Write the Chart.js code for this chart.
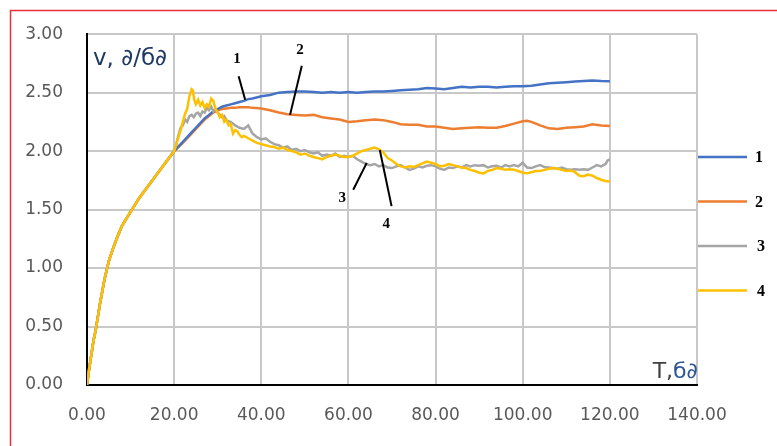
<!DOCTYPE html>
<html>
<head>
<meta charset="utf-8">
<script src="https://cdn.jsdelivr.net/npm/chart.js@4.4.1/dist/chart.umd.min.js"></script>
<style>
  html, body { margin: 0; padding: 0; background: #fff; }
  #wrap { width: 777px; height: 446px; }
</style>
</head>
<body>
<div id="wrap"><canvas id="myChart" width="777" height="446"></canvas></div>
<script>
// shared start-up part (0..20 s), all four runs coincide
const riseT = [0, 0.5, 1, 1.5, 2, 3, 4, 5, 6, 7, 8, 9, 10, 11, 12, 14, 16, 18, 20];
const riseV = [0, 0.14, 0.26, 0.38, 0.47, 0.70, 0.90, 1.06, 1.17, 1.27, 1.36, 1.42, 1.48, 1.54, 1.60, 1.70, 1.80, 1.90, 2.00];

// run 1
const t1 = [21, 22, 23, 24, 25, 26, 27, 28, 29, 30, 31, 32, 33, 34, 35, 36, 37, 38, 40, 42, 44, 46, 48, 50,
  52, 54, 56, 58, 60, 62, 64, 66, 68, 70, 72, 74, 76, 78, 80, 82, 84, 86, 88, 90, 92, 94, 96, 98, 100,
  102, 104, 106, 108, 110, 112, 114, 116, 118, 120];
const v1 = [2.04, 2.08, 2.12, 2.16, 2.20, 2.24, 2.28, 2.31, 2.34, 2.36, 2.38, 2.39, 2.40, 2.41, 2.42, 2.43, 2.445, 2.45, 2.47, 2.48, 2.50, 2.505, 2.51, 2.51,
  2.505, 2.50, 2.505, 2.50, 2.505, 2.50, 2.505, 2.51, 2.51, 2.515, 2.52, 2.525, 2.53, 2.54, 2.535, 2.53, 2.54, 2.55, 2.545, 2.55, 2.55, 2.545, 2.55, 2.555, 2.555,
  2.56, 2.57, 2.58, 2.585, 2.59, 2.595, 2.60, 2.605, 2.60, 2.597];

// run 2
const t2 = [21, 22, 23, 24, 25, 26, 27, 28, 29, 30, 31, 32, 33, 34, 35, 36, 37, 38, 40, 42, 44, 46, 48, 50,
  52, 54, 56, 58, 60, 62, 64, 66, 68, 70, 72, 74, 76, 78, 80, 82, 84, 86, 88, 90, 92, 94, 96, 98, 100,
  101, 102, 104, 106, 108, 110, 112, 114, 116, 118, 120];
const v2 = [2.035, 2.07, 2.11, 2.15, 2.19, 2.23, 2.27, 2.30, 2.33, 2.35, 2.36, 2.365, 2.37, 2.37, 2.375, 2.375, 2.375, 2.37, 2.365, 2.35, 2.33, 2.315, 2.31, 2.305,
  2.31, 2.29, 2.28, 2.27, 2.25, 2.255, 2.265, 2.27, 2.265, 2.25, 2.23, 2.225, 2.225, 2.21, 2.21, 2.20, 2.19, 2.195, 2.20, 2.205, 2.20, 2.20, 2.215, 2.235, 2.255,
  2.26, 2.25, 2.22, 2.195, 2.19, 2.20, 2.205, 2.21, 2.23, 2.22, 2.215];

// run 3
const t3 = [20.5, 21, 21.5, 22, 22.5, 23, 23.5, 24, 24.5, 25, 25.5, 26, 26.5, 27, 27.5, 28, 28.5, 29, 29.5, 30, 30.5, 31, 31.5, 32,
  33, 34, 35, 36, 37, 38, 39, 40, 41, 42, 43, 44, 45, 46, 47, 48, 49, 50, 51, 52, 53, 54, 55, 56, 57, 58, 59, 60,
  61, 62, 63, 64, 65, 66, 67, 68, 69, 70, 71, 72, 73, 74, 75, 76, 77, 78, 79, 80, 81, 82, 83, 84, 85, 86, 87, 88, 89, 90,
  91, 92, 93, 94, 95, 96, 97, 98, 99, 100, 101, 102, 103, 104, 105, 106, 107, 108, 109, 110, 111, 112, 113, 114, 115, 116, 117, 118, 119, 119.5, 120];
const v3 = [2.06, 2.14, 2.20, 2.22, 2.27, 2.25, 2.30, 2.31, 2.29, 2.32, 2.33, 2.30, 2.34, 2.33, 2.37, 2.35, 2.38, 2.34, 2.36, 2.33, 2.31, 2.29, 2.30, 2.26,
  2.25, 2.22, 2.20, 2.19, 2.22, 2.15, 2.12, 2.10, 2.11, 2.08, 2.06, 2.05, 2.03, 2.04, 2.01, 2.02, 2.00, 2.01, 1.99, 1.98, 1.99, 1.96, 1.97, 1.96, 1.98, 1.95, 1.96, 1.95,
  1.96, 1.93, 1.91, 1.89, 1.88, 1.89, 1.87, 1.88, 1.86, 1.855, 1.87, 1.88, 1.86, 1.84, 1.85, 1.87, 1.86, 1.875, 1.88, 1.87, 1.85, 1.84, 1.86, 1.855, 1.87, 1.86, 1.88, 1.87, 1.88, 1.875,
  1.88, 1.86, 1.87, 1.875, 1.86, 1.88, 1.87, 1.88, 1.87, 1.90, 1.86, 1.855, 1.87, 1.88, 1.865, 1.86, 1.855, 1.85, 1.86, 1.845, 1.84, 1.845, 1.84, 1.845, 1.84, 1.86, 1.88, 1.87, 1.89, 1.92, 1.93];

// run 4
const t4 = [20.5, 21, 21.5, 22, 22.5, 23, 23.5, 24, 24.3, 24.6, 25, 25.5, 26, 26.5, 27, 27.5, 28, 28.5, 29, 29.5, 30, 30.5, 31, 31.5, 32,
  32.5, 33, 33.5, 34, 34.5, 35, 35.5, 36, 37, 38, 39, 40, 41, 42, 43, 44, 45, 46, 47, 48, 49, 50, 51, 52, 53, 54, 55, 56, 57, 58, 59, 60,
  61, 62, 63, 64, 65, 66, 67, 68, 69, 70, 71, 72, 73, 74, 75, 76, 77, 78, 79, 80, 81, 82, 83, 84, 85, 86, 87, 88, 89, 90,
  91, 92, 93, 94, 95, 96, 97, 98, 99, 100, 101, 102, 103, 104, 105, 106, 107, 108, 109, 110, 111, 112, 113, 114, 115, 116, 117, 118, 119, 120];
const v4 = [2.06, 2.12, 2.18, 2.25, 2.32, 2.36, 2.47, 2.53, 2.52, 2.44, 2.40, 2.44, 2.39, 2.42, 2.37, 2.40, 2.38, 2.45, 2.43, 2.36, 2.33, 2.29, 2.31, 2.25, 2.27,
  2.22, 2.23, 2.15, 2.18, 2.17, 2.14, 2.12, 2.13, 2.11, 2.09, 2.07, 2.06, 2.05, 2.04, 2.035, 2.02, 2.03, 2.01, 2.00, 1.99, 1.97, 1.98, 1.96, 1.95, 1.94, 1.93, 1.95, 1.96, 1.97, 1.96, 1.95, 1.95,
  1.96, 1.98, 2.00, 2.01, 2.02, 2.03, 2.015, 1.99, 1.94, 1.92, 1.89, 1.87, 1.86, 1.87, 1.865, 1.88, 1.895, 1.91, 1.90, 1.89, 1.87, 1.875, 1.89, 1.88, 1.87, 1.86, 1.855, 1.84, 1.83, 1.815,
  1.81, 1.83, 1.84, 1.855, 1.85, 1.84, 1.845, 1.84, 1.83, 1.815, 1.81, 1.82, 1.83, 1.83, 1.84, 1.85, 1.855, 1.85, 1.84, 1.83, 1.835, 1.82, 1.79, 1.785, 1.80, 1.79, 1.77, 1.755, 1.745, 1.74];

const seriesNames = ['1', '2', '3', '4'];
const seriesColors = ['#4472C4', '#ED7D31', '#A5A5A5', '#FFC000'];

const xTicks = [0, 20, 40, 60, 80, 100, 120, 140];
const yTicks = [0, 0.5, 1, 1.5, 2, 2.5, 3];

function points(ts, vs) {
   const all = riseT.concat(ts);
   const vals = riseV.concat(vs);
   return all.map((t, i) => ({ x: t, y: vals[i] }));
}

// callouts: label position and leader line, in data units
const callouts = [
   { text: '1', at: [34.4, 2.79], from: [34.8, 2.64], to: [36.3, 2.44] },
   { text: '2', at: [48.9, 2.86], from: [49.3, 2.73], to: [46.6, 2.31] },
   { text: '3', at: [58.6, 1.60], from: [61.1, 1.67], to: [64.2, 1.90] },
   { text: '4', at: [68.7, 1.38], from: [67.2, 2.01], to: [69.9, 1.53] }
];

const ctx = document.getElementById('myChart').getContext('2d');

const decor = {
   id: 'decor',
   beforeDraw(chart) {
      const c = chart.ctx;
      c.save();
      c.fillStyle = '#fff';
      c.fillRect(0, 0, chart.width, chart.height);
      c.restore();
   },
   afterDraw(chart) {
      const c = chart.ctx;
      const xs = chart.scales.x, ys = chart.scales.y;
      const area = chart.chartArea;
      c.save();

      // callouts
      c.strokeStyle = '#000';
      c.lineWidth = 2;
      c.fillStyle = '#000';
      c.font = 'bold 15px "Liberation Serif"';
      c.textAlign = 'center';
      c.textBaseline = 'middle';
      callouts.forEach(o => {
         c.beginPath();
         c.moveTo(xs.getPixelForValue(o.from[0]), ys.getPixelForValue(o.from[1]));
         c.lineTo(xs.getPixelForValue(o.to[0]), ys.getPixelForValue(o.to[1]));
         c.stroke();
         c.fillText(o.text, xs.getPixelForValue(o.at[0]), ys.getPixelForValue(o.at[1]));
      });

      // legend on the right
      c.font = 'bold 16px "Liberation Serif"';
      c.textAlign = 'left';
      seriesNames.forEach((n, i) => {
         const y = 157 + i * 44.5;
         c.strokeStyle = seriesColors[i];
         c.lineWidth = 2.5;
         c.beginPath();
         c.moveTo(area.right + 1, y);
         c.lineTo(area.right + 50, y);
         c.stroke();
         c.fillText(n, area.right + 58 + (i > 1 ? 2 : 0), y + 1);
      });

      // axis captions
      c.textBaseline = 'alphabetic';
      c.font = '23px "DejaVu Sans"';
      c.fillStyle = '#1F3864';
      c.fillText('v, ∂/б∂', area.left + 6, area.top + 31);

      c.font = '22px "DejaVu Sans"';
      c.textAlign = 'right';
      const tail = 'б∂';
      const tailW = c.measureText(tail).width;
      c.fillStyle = '#2F5597';
      c.fillText(tail, area.right + 1, area.bottom - 7);
      c.fillStyle = '#404040';
      c.fillText('T,', area.right + 1 - tailW, area.bottom - 7);

      // red frame
      c.strokeStyle = '#E8303A';
      c.lineWidth = 1.5;
      c.strokeRect(10.5, 10.5, 900, 600);
      c.restore();
   }
};

const data = {
   datasets: [
      { label: seriesNames[3], data: points(t4, v4), borderColor: seriesColors[3], order: 0 },
      { label: seriesNames[2], data: points(t3, v3), borderColor: seriesColors[2], order: 1 },
      { label: seriesNames[0], data: points(t1, v1), borderColor: seriesColors[0], order: 2 },
      { label: seriesNames[1], data: points(t2, v2), borderColor: seriesColors[1], order: 3 }
   ].map(d => Object.assign(d, { showLine: true, pointRadius: 0, borderWidth: 2.5, tension: 0, fill: false }))
};

const tickFont = { family: '"DejaVu Sans"', size: 17 };

const config = {
   type: 'scatter',
   data: data,
   options: {
      responsive: false,
      animation: false,
      layout: { padding: { left: 0, top: 32, right: 80, bottom: 0 } },
      plugins: {
         legend: { display: false },
         tooltip: { enabled: false }
      },
      scales: {
         x: {
            type: 'linear',
            min: 0,
            max: 140,
            afterBuildTicks: s => { s.ticks = xTicks.map(v => ({ value: v })); },
            afterFit: s => { s.height = 61; },
            grid: { color: '#C8C8C8', lineWidth: 2, drawTicks: false },
            border: { color: '#000', width: 2 },
            ticks: {
               color: '#595959',
               font: tickFont,
               padding: 20,
               maxRotation: 0,
               callback: v => v.toFixed(2)
            }
         },
         y: {
            min: 0,
            max: 3,
            afterBuildTicks: s => { s.ticks = yTicks.map(v => ({ value: v })); },
            afterFit: s => { s.width = 87; },
            grid: { color: '#C8C8C8', lineWidth: 2, drawTicks: false },
            border: { color: '#000', width: 2 },
            ticks: {
               color: '#595959',
               font: tickFont,
               padding: 24,
               callback: v => v.toFixed(2)
            }
         }
      }
   },
   plugins: [decor]
};

const myChart = new Chart(ctx, config);
</script>
</body>
</html>
